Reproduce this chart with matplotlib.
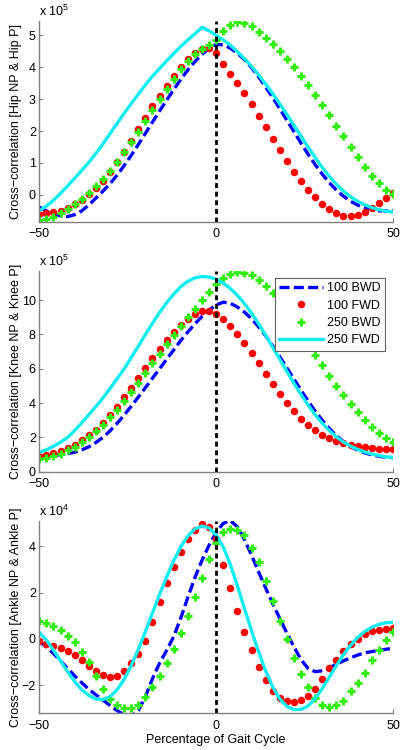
import numpy as np
import matplotlib
matplotlib.use("Agg")
import matplotlib.pyplot as plt
from matplotlib.lines import Line2D

plt.rcParams['font.family'] = ['Liberation Sans', 'DejaVu Sans']
plt.rcParams['mathtext.fontset'] = 'custom'
plt.rcParams['mathtext.rm'] = 'Liberation Sans'
plt.rcParams['mathtext.it'] = 'Liberation Sans'

# ---------------- data ----------------
lag = np.arange(-50, 51, 2)  # percentage of gait cycle

series_labels = ["100 BWD", "100 FWD", "250 BWD", "250 FWD"]

# Hip (x 1e5)
hip_100bwd = [-0.38, -0.5, -0.6, -0.66, -0.68, -0.62, -0.5, -0.32, -0.1, 0.12, 0.35, 0.62, 0.92, 1.24, 1.58, 1.93, 2.28, 2.63, 2.97, 3.3, 3.62, 3.92, 4.18, 4.4, 4.6, 4.72,
              4.7, 4.6, 4.44, 4.24, 3.99, 3.7, 3.38, 3.05, 2.7, 2.34, 1.98, 1.62, 1.27, 0.95, 0.65, 0.38, 0.15, -0.04, -0.2, -0.32, -0.4, -0.46, -0.5, -0.5, -0.5]
hip_100fwd = [-0.6, -0.58, -0.55, -0.5, -0.42, -0.3, -0.15, 0.02, 0.22, 0.45, 0.72, 1.02, 1.35, 1.7, 2.06, 2.42, 2.78, 3.1, 3.42, 3.72, 4.0, 4.25, 4.45, 4.58, 4.6, 4.45,
              4.1, 3.8, 3.52, 3.2, 2.85, 2.48, 2.12, 1.76, 1.4, 1.05, 0.72, 0.43, 0.16, -0.08, -0.28, -0.45, -0.58, -0.65, -0.67, -0.64, -0.55, -0.42, -0.26, -0.1, 0.05]
hip_250bwd = [-0.8, -0.75, -0.68, -0.58, -0.45, -0.3, -0.12, 0.07, 0.28, 0.5, 0.75, 1.03, 1.33, 1.65, 1.98, 2.32, 2.66, 2.99, 3.32, 3.64, 3.93, 4.2, 4.42, 4.58, 4.7, 4.85,
              5.15, 5.33, 5.42, 5.4, 5.28, 5.1, 4.92, 4.72, 4.5, 4.26, 4.0, 3.72, 3.43, 3.13, 2.82, 2.5, 2.17, 1.84, 1.5, 1.18, 0.88, 0.6, 0.36, 0.16, 0.02]
hip_250fwd = [-0.5, -0.35, -0.17, 0.05, 0.28, 0.52, 0.77, 1.02, 1.3, 1.6, 1.92, 2.24, 2.56, 2.86, 3.16, 3.45, 3.72, 3.96, 4.2, 4.43, 4.65, 4.86, 5.05, 5.25, 5.14, 5.0,
              4.86, 4.69, 4.49, 4.27, 4.03, 3.76, 3.47, 3.17, 2.85, 2.52, 2.18, 1.84, 1.5, 1.17, 0.86, 0.58, 0.33, 0.12, -0.06, -0.2, -0.31, -0.4, -0.46, -0.51, -0.54]

# Knee (x 1e5)
knee_100bwd = [0.9, 0.92, 0.95, 0.99, 1.05, 1.14, 1.27, 1.45, 1.7, 2.0, 2.38, 2.82, 3.3, 3.82, 4.35, 4.9, 5.45, 6.0, 6.55, 7.1, 7.65, 8.15, 8.62, 9.05, 9.42, 9.72,
               9.88, 9.82, 9.6, 9.3, 8.92, 8.45, 7.92, 7.33, 6.7, 6.05, 5.4, 4.75, 4.12, 3.53, 3.0, 2.52, 2.1, 1.75, 1.47, 1.25, 1.1, 0.98, 0.9, 0.85, 0.82]
knee_100fwd = [0.9, 1.0, 1.1, 1.22, 1.38, 1.58, 1.83, 2.12, 2.46, 2.85, 3.3, 3.8, 4.34, 4.9, 5.48, 6.05, 6.62, 7.17, 7.68, 8.14, 8.55, 8.9, 9.18, 9.35, 9.38, 9.22,
               8.9, 8.5, 8.02, 7.5, 6.92, 6.32, 5.72, 5.12, 4.55, 4.02, 3.53, 3.1, 2.73, 2.42, 2.16, 1.95, 1.79, 1.66, 1.56, 1.49, 1.43, 1.38, 1.34, 1.31, 1.3]
knee_250bwd = [0.72, 0.8, 0.92, 1.06, 1.24, 1.46, 1.72, 2.02, 2.36, 2.74, 3.16, 3.62, 4.12, 4.65, 5.2, 5.76, 6.32, 6.88, 7.43, 7.96, 8.48, 9.0, 9.5, 10.0, 10.48, 10.95,
               11.3, 11.52, 11.62, 11.6, 11.45, 11.2, 10.85, 10.42, 9.92, 9.36, 8.76, 8.13, 7.48, 6.83, 6.2, 5.6, 5.02, 4.48, 3.96, 3.48, 3.03, 2.63, 2.27, 1.96, 1.72]
knee_250fwd = [1.12, 1.28, 1.48, 1.72, 2.0, 2.4, 2.85, 3.32, 3.8, 4.3, 4.85, 5.42, 6.0, 6.65, 7.32, 8.0, 8.65, 9.28, 9.85, 10.35, 10.78, 11.1, 11.3, 11.38, 11.35, 11.22,
               11.0, 10.68, 10.28, 9.8, 9.25, 8.62, 7.95, 7.25, 6.55, 5.85, 5.15, 4.5, 3.88, 3.32, 2.82, 2.4, 2.03, 1.73, 1.49, 1.3, 1.15, 1.03, 0.94, 0.87, 0.82]

# Ankle (x 1e4)
ankle_100bwd = [-0.1, -0.35, -0.63, -0.95, -1.28, -1.6, -1.9, -2.18, -2.42, -2.65, -2.88, -3.1, -3.28, -3.35, -3.1, -2.5, -1.72, -1.05, -0.5, 0.1, 0.9, 1.8, 2.65, 3.4, 4.05, 4.6,
                5.0, 5.12, 4.85, 4.3, 3.62, 2.9, 2.2, 1.52, 0.88, 0.25, -0.35, -0.9, -1.28, -1.42, -1.38, -1.25, -1.1, -0.95, -0.82, -0.7, -0.6, -0.55, -0.5, -0.45, -0.4]
ankle_100fwd = [-0.1, -0.22, -0.3, -0.4, -0.54, -0.69, -0.91, -1.18, -1.4, -1.56, -1.63, -1.6, -1.38, -1.06, -0.66, -0.1, 0.72, 1.6, 2.4, 3.1, 3.75, 4.3, 4.7, 4.98, 4.85, 4.3,
                3.2, 2.2, 1.2, 0.3, -0.5, -1.2, -1.8, -2.25, -2.55, -2.7, -2.72, -2.63, -2.46, -2.16, -1.72, -1.24, -0.92, -0.52, -0.24, -0.01, 0.2, 0.33, 0.39, 0.43, 0.46]
ankle_250bwd = [0.78, 0.7, 0.55, 0.38, 0.14, -0.15, -0.55, -1.02, -1.6, -2.15, -2.58, -2.84, -2.97, -2.99, -2.84, -2.5, -2.1, -1.62, -1.05, -0.42, 0.25, 1.0, 1.82, 2.65, 3.45, 4.15,
                4.62, 4.76, 4.7, 4.5, 3.92, 3.32, 2.5, 1.65, 0.78, 0.0, -0.82, -1.5, -2.08, -2.55, -2.87, -2.93, -2.88, -2.68, -2.27, -1.92, -1.48, -0.92, -0.5, -0.04, 0.3]
ankle_250fwd = [0.28, -0.05, -0.48, -0.95, -1.42, -1.85, -2.2, -2.45, -2.6, -2.62, -2.5, -2.2, -1.75, -1.15, -0.45, 0.32, 1.12, 1.92, 2.68, 3.38, 3.98, 4.45, 4.76, 4.88, 4.8, 4.5,
                3.98, 3.22, 2.3, 1.32, 0.35, -0.56, -1.38, -2.08, -2.6, -2.92, -3.06, -3.05, -2.9, -2.58, -2.15, -1.65, -1.15, -0.68, -0.28, 0.06, 0.32, 0.5, 0.63, 0.7, 0.72]

panels = [
    dict(series=[hip_100bwd, hip_100fwd, hip_250bwd, hip_250fwd], exp=5, ylim=(-0.85, 5.45),
         yticks=[0, 1, 2, 3, 4, 5], ylabel="Cross\u2212correlation [Hip NP & Hip P]"),
    dict(series=[knee_100bwd, knee_100fwd, knee_250bwd, knee_250fwd], exp=5, ylim=(0, 11.7),
         yticks=[0, 2, 4, 6, 8, 10], ylabel="Cross\u2212correlation [Knee NP & Knee P]"),
    dict(series=[ankle_100bwd, ankle_100fwd, ankle_250bwd, ankle_250fwd], exp=4, ylim=(-3.22, 5.1),
         yticks=[-2, 0, 2, 4], ylabel="Cross\u2212correlation [Ankle NP & Ankle P]"),
]
xticks = [-50, 0, 50]
xlabel = "Percentage of Gait Cycle"

# ---------------- figure ----------------
W, H = 400, 750
fig = plt.figure(figsize=(W / 100, H / 100), dpi=100)

# axes boxes in pixels: (left, top, right, bottom)
boxes = [(39.3, 21, 393, 222), (39.3, 271, 393, 471.7), (39.3, 521, 393, 713.3)]

BLUE = "#0000ff"
RED = "#ff0000"
GREEN = "#33ee11"
CYAN = "#11eeee"
SPINE = "#808080"
FS = 9

styles = [
    dict(color=BLUE, lw=2.4, ls=(0, (3.0, 1.3))),
    dict(color=RED, ls="none", marker="o", ms=5.4, mec=RED, mfc=RED, mew=0),
    dict(color=GREEN, ls="none", marker="+", ms=5.8, mew=2.2),
    dict(color=CYAN, lw=2.4, ls="-"),
]

def fmt(v):
    return str(v) if v >= 0 else "\u2212" + str(-v)

for i, (p, (l, t, r, b)) in enumerate(zip(panels, boxes)):
    ax = fig.add_axes([l / W, 1 - b / H, (r - l) / W, (b - t) / H])
    for s, st in zip(p["series"], styles):
        ax.plot(lag, s, clip_on=True, **st)
    ax.axvline(0, color="black", lw=2.0, ls=(0, (1.8, 1.3)), zorder=10)
    ax.set_xlim(-50, 50)
    ax.set_ylim(*p["ylim"])
    ax.set_xticks(xticks)
    ax.set_xticklabels([fmt(v) for v in xticks])
    ax.set_yticks(p["yticks"])
    ax.set_yticklabels([fmt(v) for v in p["yticks"]])
    for side in ("top", "right"):
        ax.spines[side].set_visible(False)
    for side in ("left", "bottom"):
        ax.spines[side].set_color(SPINE)
        ax.spines[side].set_linewidth(1.0)
    ax.tick_params(direction="in", length=3, width=0.8, color=SPINE,
                   labelsize=FS, labelcolor="black")
    ax.tick_params(axis="y", pad=2.5)
    ax.tick_params(axis="x", pad=4.5)
    ax.set_ylabel(p["ylabel"], fontsize=FS)
    ax.yaxis.set_label_coords(-0.05, 0.5)
    ax.text(0.0, 1.012, r"x $10^{%d}$" % p["exp"], transform=ax.transAxes,
            ha="left", va="bottom", fontsize=FS)
    if i == 2:
        ax.set_xlabel(xlabel, fontsize=FS, labelpad=1.5)
    if i == 1:
        handles = [Line2D([], [], **st) for st in styles]
        leg = ax.legend(handles, series_labels, loc="upper right",
                        bbox_to_anchor=(0.977, 0.965), borderaxespad=0,
                        fontsize=FS, handlelength=3.5, handletextpad=0.3,
                        labelspacing=0.42, borderpad=0.35, fancybox=False,
                        framealpha=1, edgecolor="#606060", numpoints=1)
        leg.get_frame().set_linewidth(0.8)

fig.savefig("out.png", dpi=100)
